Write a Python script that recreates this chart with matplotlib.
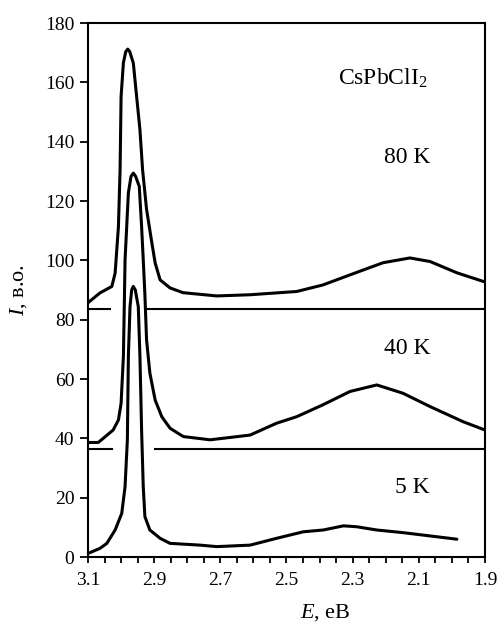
import numpy as np
import matplotlib
matplotlib.use("Agg")
import matplotlib.pyplot as plt
from matplotlib.ticker import FixedLocator, MultipleLocator

plt.rcParams['font.family'] = ['Liberation Serif', 'DejaVu Serif']
plt.rcParams['mathtext.fontset'] = 'custom'
plt.rcParams['mathtext.rm'] = 'Liberation Serif'
plt.rcParams['mathtext.it'] = 'Liberation Serif:italic'

# 80 K spectrum
e_80 = [3.100, 3.064, 3.028, 3.018, 3.008, 3.003, 3.000, 2.993, 2.986, 2.980,
        2.974, 2.963, 2.953, 2.943, 2.935, 2.923, 2.907, 2.897, 2.882, 2.852,
        2.813, 2.711, 2.610, 2.469, 2.390, 2.308, 2.208, 2.127, 2.066, 1.985,
        1.900]
i_80 = [85.7, 89.0, 91.2, 95.7, 111.4, 130.5, 155.2, 166.6, 170.3, 171.2,
        170.4, 166.5, 155.2, 144.0, 130.5, 117.2, 105.9, 99.1, 93.4, 90.7,
        89.1, 88.0, 88.4, 89.5, 91.7, 95.1, 99.2, 100.8, 99.6, 95.8,
        92.7]

# 40 K spectrum
e_40 = [3.099, 3.069, 3.024, 3.008, 3.000, 2.993, 2.990, 2.988, 2.983, 2.978,
        2.970, 2.963, 2.956, 2.945, 2.938, 2.933, 2.928, 2.923, 2.913, 2.897,
        2.877, 2.852, 2.812, 2.731, 2.610, 2.530, 2.469, 2.390, 2.308, 2.227,
        2.148, 2.066, 1.966, 1.900]
i_40 = [38.6, 38.6, 42.8, 46.2, 51.8, 67.6, 86.7, 100.2, 111.4, 122.7,
        128.3, 129.4, 128.3, 124.9, 111.4, 100.2, 88.4, 73.2, 62.0, 52.9,
        47.3, 43.4, 40.6, 39.5, 41.1, 45.1, 47.3, 51.3, 55.8, 58.0,
        55.2, 50.7, 45.6, 42.8]

# 5 K spectrum
e_5 = [3.100, 3.064, 3.043, 3.018, 2.998, 2.988, 2.981, 2.978, 2.973, 2.968,
       2.963, 2.957, 2.948, 2.943, 2.938, 2.933, 2.928, 2.913, 2.882, 2.852,
       2.761, 2.711, 2.610, 2.530, 2.449, 2.389, 2.328, 2.288, 2.227, 2.147,
       2.066, 1.985]
i_5 = [1.2, 2.9, 4.6, 9.1, 14.7, 23.7, 39.5, 67.6, 84.4, 90.0,
       91.2, 90.0, 84.4, 67.6, 42.8, 23.7, 13.6, 9.1, 6.3, 4.6,
       4.0, 3.5, 4.0, 6.3, 8.5, 9.1, 10.5, 10.2, 9.1, 8.2,
       7.1, 6.0]

# zero levels of the shifted spectra
base_80 = 83.6
base_40 = 36.3
gap_80 = (3.033, 2.923)
gap_40 = (3.028, 2.897)

x_labels = ['3.1', '2.9', '2.7', '2.5', '2.3', '2.1', '1.9']
y_labels = ['0', '20', '40', '60', '80', '100', '120', '140', '160', '180']

fig = plt.figure(figsize=(4.98, 6.34), dpi=100)
ax = fig.add_axes([88 / 498, 77 / 634, 397 / 498, 534 / 634])

lw = 2.2
for e, i in [(e_80, i_80), (e_40, i_40), (e_5, i_5)]:
    ax.plot(e, i, color='black', linewidth=lw,
            solid_joinstyle='round', solid_capstyle='round')

ax.plot([3.1, gap_80[0]], [base_80, base_80], color='black', linewidth=1.5)
ax.plot([gap_80[1], 1.9], [base_80, base_80], color='black', linewidth=1.5)
ax.plot([3.1, gap_40[0]], [base_40, base_40], color='black', linewidth=1.5)
ax.plot([gap_40[1], 1.9], [base_40, base_40], color='black', linewidth=1.5)

ax.set_xlim(3.1, 1.9)
ax.set_ylim(0, 180)

x_ticks = [float(s) for s in x_labels]
ax.xaxis.set_major_locator(FixedLocator(x_ticks))
ax.set_xticklabels(x_labels)
ax.xaxis.set_minor_locator(MultipleLocator(0.05))
ax.set_yticks([int(s) for s in y_labels])
ax.set_yticklabels(y_labels)

ax.tick_params(axis='x', which='both', direction='out', length=4.5, width=1.3,
               labelsize=14, pad=6, top=False)
ax.tick_params(axis='y', which='both', direction='out', length=5.8, width=1.3,
               labelsize=14, pad=4, right=False)
for sp in ax.spines.values():
    sp.set_linewidth(1.5)

ax.set_xlabel('$E$, eB', fontsize=16)
ax.xaxis.set_label_coords(0.597, -0.085)
ax.set_ylabel('$I$, в.о.', fontsize=16)
ax.yaxis.set_label_coords(-0.148, 0.5)

ax.text(2.343, 159.2, 'CsPbClI$_2$', fontsize=17, ha='left', va='baseline')
ax.text(2.066, 132.8, '80 K', fontsize=17, ha='right', va='baseline')
ax.text(2.066, 68.4, '40 K', fontsize=17, ha='right', va='baseline')
ax.text(2.066, 21.7, '5 K', fontsize=17, ha='right', va='baseline')

fig.savefig('out.png', dpi=100)
